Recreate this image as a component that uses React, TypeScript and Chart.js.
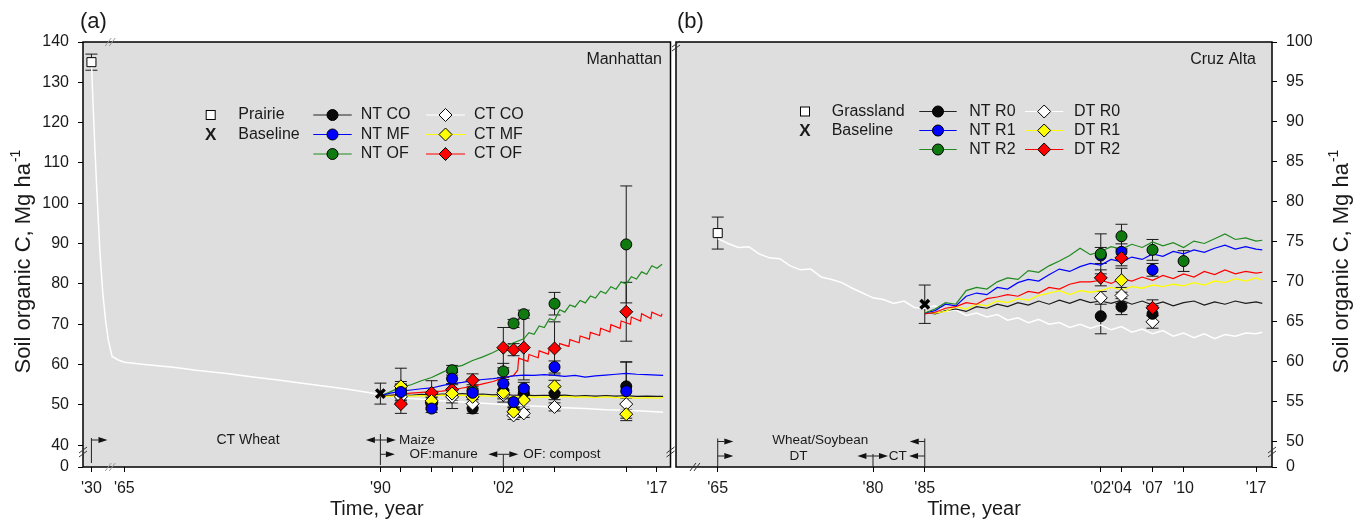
import React, { useEffect, useRef } from 'react';
import { Chart, registerables } from 'chart.js';

Chart.register(...registerables);

const FONT = '"Liberation Sans", Arial, Helvetica, sans-serif';
const TEXT = '#1a1a1a';
const PLOT_BG = '#dedede';

// ================= Panel (a): Manhattan =================
const aXTickYears = [1930, 1965, 1990, 1992, 1995, 1997, 1999, 2002, 2003, 2004, 2007, 2014, 2017];
const aXTickLabels = ["'30", "'65", "'90", '', '', '', '', "'02", '', '', '', '', "'17"];
const aYTickValues = [0, 40, 50, 60, 70, 80, 90, 100, 110, 120, 130, 140];

const aPrairieYear = [1930];
const aPrairieValue = [135];
const aPrairieErr = [2.0];
const aBaselineYear = [1990];
const aBaselineValue = [52.8];
const aBaselineErr = [2.6];

const aObsYears = [1992, 1995, 1997, 1999, 2002, 2003, 2004, 2007, 2014];
const aNtCo = [53.0, 50.3, 52.5, 49.1, 53.5, 48.3, 53.0, 52.8, 54.6];
const aNtCoErr = [2.0, 1.5, 1.5, 1.2, 1.5, 1.0, 1.5, 1.5, 6.0];
const aNtMf = [53.2, 49.1, 56.5, 53.0, 55.3, 50.7, 54.1, 59.4, 53.4];
const aNtMfErr = [2.0, 1.0, 1.5, 1.0, 1.5, 1.0, 1.5, 1.5, 7.3];
const aNtOf = [53.8, 50.8, 58.6, 53.5, 58.3, 70.2, 72.5, 75.1, 89.8];
const aNtOfErr = [2.0, 1.5, 1.2, 1.5, 2.0, 1.0, 1.0, 2.8, 14.5];
const aCtCo = [52.0, 50.5, 52.0, 50.3, 52.5, 47.4, 47.9, 49.5, 50.2];
const aCtCoErr = [1.5, 1.5, 1.5, 1.0, 1.0, 1.0, 1.0, 1.0, 1.5];
const aCtMf = [54.6, 51.0, 52.8, 52.0, 53.0, 48.3, 51.2, 54.6, 47.7];
const aCtMfErr = [4.5, 1.5, 3.7, 1.5, 2.3, 1.0, 1.5, 1.5, 1.0];
const aCtOf = [50.2, 53.0, 53.8, 56.1, 64.2, 63.7, 64.2, 64.0, 73.1];
const aCtOfErr = [2.3, 3.0, 1.5, 1.6, 5.0, 1.5, 8.0, 6.6, 7.3];

const aWhiteYears = [1930, 1932, 1934, 1936, 1939, 1942, 1945, 1948, 1952, 1958, 1965, 1967, 1970, 1972, 1975, 1977, 1980, 1982, 1985, 1987, 1990, 1992, 1994, 1996, 1998, 2000, 2002, 2004, 2006, 2008, 2010, 2012, 2014, 2016, 2017.6];
const aWhiteModel = [135, 123, 112, 102, 88, 78, 71, 66, 62, 61.2, 60.6, 60.0, 59.3, 58.6, 57.8, 57.1, 56.2, 55.5, 54.5, 53.8, 52.6, 51.8, 51.4, 51.0, 50.7, 50.4, 50.1, 49.8, 49.6, 49.3, 49.1, 48.8, 48.7, 48.4, 48.2];

const aModelYears = [1990, 1991, 1992, 1993, 1994, 1995, 1996, 1997, 1998, 1999, 2000, 2001, 2002, 2003, 2004, 2005, 2006, 2007, 2008, 2009, 2010, 2011, 2012, 2013, 2014, 2015, 2016, 2017, 2017.6];
const aNtCoModel = [52.3, 52.4, 52.5, 52.4, 52.6, 52.5, 52.7, 52.6, 52.8, 52.6, 52.7, 52.5, 52.6, 52.4, 52.5, 52.3, 52.4, 52.3, 52.4, 52.2, 52.3, 52.2, 52.3, 52.2, 52.3, 52.1, 52.2, 52.1, 52.1];
const aCtMfModel = [52.2, 52.1, 52.3, 52.2, 52.3, 52.2, 52.4, 52.3, 52.4, 52.2, 52.3, 52.1, 52.2, 52.0, 52.1, 51.9, 52.0, 51.9, 52.1, 51.9, 52.0, 51.8, 52.0, 51.8, 51.9, 51.7, 51.8, 51.7, 51.8];
const aNtMfModel = [52.3, 52.9, 53.4, 53.7, 54.0, 54.2, 54.8, 55.3, 55.6, 56.0, 56.3, 56.5, 56.8, 57.2, 57.4, 57.3, 57.5, 57.3, 57.1, 57.3, 56.9, 57.2, 57.4, 57.6, 57.8, 57.6, 57.5, 57.4, 57.3];

const aNtOfYears = [1990, 1991, 1992, 1993, 1994, 1995, 1996, 1997, 1998, 1999, 2000, 2001, 2002, 2003, 2004, 2004.5, 2005, 2005.5, 2006, 2006.5, 2007, 2007.5, 2008, 2008.5, 2009, 2009.5, 2010, 2010.5, 2011, 2011.5, 2012, 2012.5, 2013, 2013.5, 2014, 2014.5, 2015, 2015.5, 2016, 2016.5, 2017, 2017.5];
const aNtOfModel = [52.2, 53.3, 54.4, 55.0, 56.0, 56.8, 58.0, 59.2, 59.8, 61.0, 61.9, 63.0, 64.3, 65.4, 66.4, 67.9, 67.5, 69.6, 69.2, 71.4, 71.0, 73.6, 73.0, 74.8, 74.3, 75.9, 75.3, 77.0, 76.5, 78.2, 77.6, 79.3, 78.7, 80.5, 80.0, 81.8, 81.2, 83.0, 82.4, 84.5, 83.9, 84.9];

const aCtOfYears = [1990, 1991, 1992, 1993, 1994, 1995, 1996, 1997, 1998, 1999, 2000, 2001, 2002, 2003, 2003.4, 2003.5, 2004.4, 2004.5, 2005.4, 2005.5, 2006.4, 2006.5, 2007.4, 2007.5, 2008.4, 2008.5, 2009.4, 2009.5, 2010.4, 2010.5, 2011.4, 2011.5, 2012.4, 2012.5, 2013.4, 2013.5, 2014.4, 2014.5, 2015.4, 2015.5, 2016.4, 2016.5, 2017.4, 2017.5];
const aCtOfModel = [52.1, 52.3, 52.7, 52.9, 53.1, 53.3, 53.4, 53.7, 54.2, 54.6, 55.2, 55.8, 56.7, 57.3, 58.6, 61.6, 60.8, 62.5, 61.7, 63.4, 62.6, 64.3, 63.6, 65.2, 64.5, 66.2, 65.4, 67.1, 66.3, 68.0, 67.2, 69.0, 68.1, 69.9, 69.0, 70.8, 70.0, 71.8, 70.8, 72.6, 71.4, 73.0, 72.0, 72.6];

const aLegendSym = ['Prairie', 'Baseline'];
const aLegendNT = ['NT CO', 'NT MF', 'NT OF'];
const aLegendCT = ['CT CO', 'CT MF', 'CT OF'];

// ================= Panel (b): Cruz Alta =================
const bXTickYears = [1965, 1980, 1985, 2002, 2004, 2007, 2010, 2017];
const bXTickLabels = ["'65", "'80", "'85", "'02", "'04", "'07", "'10", "'17"];
const bYTickValues = [0, 50, 55, 60, 65, 70, 75, 80, 85, 90, 95, 100];

const bGrassYear = [1965];
const bGrassValue = [76.1];
const bGrassErr = [2.0];
const bBaselineYear = [1985];
const bBaselineValue = [67.2];
const bBaselineErr = [2.4];

const bObsYears = [2002, 2004, 2007, 2010];
const bNtR0 = [65.7, 66.9, 66.0, null];
const bNtR0Err = [2.2, 1.0, 1.0, null];
const bNtR1 = [73.3, 73.75, 71.5, null];
const bNtR1Err = [1.0, 1.0, 0.8, null];
const bNtR2 = [73.5, 75.7, 74.0, 72.6];
const bNtR2Err = [2.5, 1.5, 1.3, 1.3];
const bDtR0 = [68.0, 68.3, 65.0, null];
const bDtR0Err = [0.8, 1.0, 0.8, null];
const bDtR1 = [null, 70.2, null, null];
const bDtR1Err = [null, 1.5, null, null];
const bDtR2 = [70.5, 73.0, 66.75, null];
const bDtR2Err = [1.0, 1.0, 1.0, null];

const bWhiteYears = [1965, 1966, 1967, 1968, 1969, 1970, 1971, 1972, 1973, 1974, 1975, 1976, 1977, 1978, 1979, 1980, 1981, 1982, 1983, 1984, 1985, 1986, 1987, 1988, 1989, 1990, 1991, 1992, 1993, 1994, 1995, 1996, 1997, 1998, 1999, 2000, 2001, 2002, 2003, 2004, 2005, 2006, 2007, 2008, 2009, 2010, 2011, 2012, 2013, 2014, 2015, 2016, 2017, 2017.6];
const bWhiteModel = [75.4, 74.8, 74.3, 74.4, 73.5, 73.0, 72.9, 72.0, 71.5, 71.6, 70.6, 70.3, 69.9, 69.2, 68.6, 68.0, 67.8, 67.3, 67.6, 66.8, 66.7, 67.0, 66.3, 66.5, 65.8, 66.1, 65.6, 65.9, 65.2, 65.5, 64.9, 65.3, 64.7, 64.9, 64.3, 64.7, 64.2, 64.6, 64.0, 64.4, 63.7, 64.1, 63.5, 63.9, 63.2, 63.6, 63.0, 63.5, 62.9, 63.4, 63.2, 63.6, 63.5, 63.7];

const bModelYears = [1985, 1986, 1987, 1988, 1989, 1990, 1991, 1992, 1993, 1994, 1995, 1996, 1997, 1998, 1999, 2000, 2001, 2002, 2003, 2004, 2005, 2006, 2007, 2008, 2009, 2010, 2011, 2012, 2013, 2014, 2015, 2016, 2017, 2017.6];
const bNtR0Model = [66.2, 66.0, 66.4, 66.6, 66.3, 66.9, 66.7, 67.2, 66.9, 67.4, 67.1, 67.6, 67.2, 67.7, 67.3, 67.8, 67.4, 67.6, 67.3, 67.7, 67.2, 67.6, 67.1, 67.5, 67.0, 67.4, 67.6, 67.1, 67.5, 67.2, 67.6, 67.3, 67.5, 67.3];
const bDtR1Model = [66.2, 66.1, 66.3, 66.9, 66.6, 67.2, 67.0, 67.6, 67.4, 67.9, 67.7, 68.3, 68.6, 68.9, 68.4, 68.9, 68.7, 68.9, 69.3, 69.0, 69.4, 69.2, 69.6, 69.4, 69.7, 69.5, 69.9, 69.6, 70.1, 69.9, 70.4, 70.1, 70.5, 70.2];
const bDtR2Model = [66.0, 66.2, 66.7, 66.9, 67.4, 67.2, 67.9, 68.1, 68.4, 68.2, 68.8, 68.6, 69.3, 69.1, 69.7, 70.0, 70.0, 70.2, 69.8, 70.4, 70.1, 70.6, 70.2, 70.8, 70.4, 71.0, 70.6, 71.3, 70.9, 71.5, 71.0, 71.3, 71.1, 71.2];
const bNtR1Model = [66.1, 66.4, 67.2, 67.0, 68.2, 68.6, 68.4, 69.3, 69.1, 69.9, 70.3, 70.1, 70.9, 71.6, 71.3, 71.9, 72.3, 72.1, 72.8, 72.5, 73.1, 72.8, 73.5, 73.2, 73.8, 73.5, 74.0, 73.7, 74.2, 74.6, 74.1, 74.4, 74.1, 74.0];
const bNtR2Model = [66.1, 66.6, 67.4, 67.2, 68.9, 69.3, 69.1, 70.0, 70.5, 70.3, 71.4, 71.2, 72.0, 72.6, 73.3, 74.2, 73.4, 73.8, 74.4, 74.1, 74.7, 74.3, 75.0, 74.5, 74.9, 74.3, 75.1, 74.8, 75.4, 76.0, 75.3, 75.5, 75.1, 75.2];

const bLegendSym = ['Grassland', 'Baseline'];
const bLegendNT = ['NT R0', 'NT R1', 'NT R2'];
const bLegendDT = ['DT R0', 'DT R1', 'DT R2'];

// ================= colours =================
const C_BLACK = '#0a0a0a';
const C_BLUE = '#0000ff';
const C_GREEN_M = '#0f7a0f';
const C_GREEN_L = '#1f8a1f';
const C_RED = '#ff0000';
const C_YELLOW = '#ffff00';
const C_WHITE = '#ffffff';
const NT_COLORS = [{ line: '#222222', fill: C_BLACK }, { line: C_BLUE, fill: C_BLUE }, { line: C_GREEN_L, fill: C_GREEN_M }];
const CT_COLORS = [{ line: C_WHITE, fill: C_WHITE }, { line: C_YELLOW, fill: C_YELLOW }, { line: C_RED, fill: C_RED }];

// ================= scale geometry =================
const A_X_MIN = 1960.967;
const A_X_MAX = 2018.32;
const A_BREAK = 0.0917; // compression of years before 1965
const A_Y_MIN = 34.6;
const B_X_MIN = 1960.97;
const B_X_MAX = 2018.54;
const B_Y_MIN = 46.84;
const B_LEFT = 600;

const tA = (yr: number) => (yr >= 1965 ? yr : 1965 - (1965 - yr) * A_BREAK);
const tAy = (v: number) => (v >= 40 ? v : A_Y_MIN);
const tBy = (v: number) => (v >= 50 ? v : B_Y_MIN);

const pts = (xs: number[], ys: (number | null)[], tx: (n: number) => number = (n) => n) =>
  xs.map((x, i) => ({ x: tx(x), y: ys[i] }));

// ================= datasets =================
function markerDs(xs: number[], ys: (number | null)[], errs: (number | null)[], style: string, fill: string, r: number, tx?: (n: number) => number): any {
  return {
    data: pts(xs, ys, tx),
    errs,
    showLine: false,
    pointStyle: style,
    pointRadius: r,
    pointHoverRadius: r,
    pointBackgroundColor: fill,
    pointBorderColor: '#000',
    pointBorderWidth: 1,
    borderColor: '#000',
    backgroundColor: fill,
  };
}
function lineDs(xs: number[], ys: number[], color: string, w: number, tx?: (n: number) => number): any {
  return {
    data: pts(xs, ys, tx),
    showLine: true,
    borderColor: color,
    borderWidth: w,
    pointRadius: 0,
    pointHoverRadius: 0,
    pointHitRadius: 0,
    tension: 0,
    fill: false,
  };
}
function crossDs(xs: number[], ys: number[], errs: number[]): any {
  return {
    data: pts(xs, ys),
    errs,
    showLine: false,
    pointStyle: 'crossRot',
    pointRadius: 6,
    pointBorderColor: '#000',
    pointBorderWidth: 3.5,
    borderColor: '#000',
  };
}

// ================= drawing helpers =================
function txt(ctx: CanvasRenderingContext2D, s: string, x: number, y: number, size: number, align: CanvasTextAlign = 'left', weight = 'normal') {
  ctx.font = `${weight} ${size}px ${FONT}`;
  ctx.textAlign = align;
  ctx.textBaseline = 'middle';
  ctx.fillStyle = TEXT;
  ctx.fillText(s, x, y);
}
function vline(ctx: CanvasRenderingContext2D, x: number, y0: number, y1: number) {
  ctx.beginPath();
  ctx.moveTo(x, y0);
  ctx.lineTo(x, y1);
  ctx.stroke();
}
function arrow(ctx: CanvasRenderingContext2D, xFrom: number, xTip: number, y: number) {
  const dir = Math.sign(xTip - xFrom);
  const head = 9;
  const hw = 3;
  ctx.beginPath();
  ctx.moveTo(xFrom, y);
  ctx.lineTo(xTip - dir * head, y);
  ctx.stroke();
  ctx.beginPath();
  ctx.moveTo(xTip, y);
  ctx.lineTo(xTip - dir * head, y - hw);
  ctx.lineTo(xTip - dir * head, y + hw);
  ctx.closePath();
  ctx.fill();
}
function breakMark(ctx: CanvasRenderingContext2D, x: number, y: number, axis: 'v' | 'h', color: string) {
  ctx.save();
  ctx.strokeStyle = color;
  ctx.lineWidth = 1;
  for (const d of [-2, 2]) {
    ctx.beginPath();
    if (axis === 'v') {
      ctx.moveTo(x - 4, y + d + 3);
      ctx.lineTo(x + 4, y + d - 3);
    } else {
      ctx.moveTo(x + d - 3, y + 4);
      ctx.lineTo(x + d + 3, y - 4);
    }
    ctx.stroke();
  }
  ctx.restore();
}
function yTitle(ctx: CanvasRenderingContext2D, cx: number, cy: number) {
  ctx.save();
  ctx.translate(cx, cy);
  ctx.rotate(-Math.PI / 2);
  const main = 'Soil organic C, Mg ha';
  const sup = '-1';
  ctx.font = `22px ${FONT}`;
  const w1 = ctx.measureText(main).width;
  ctx.font = `14px ${FONT}`;
  const w2 = ctx.measureText(sup).width;
  const x0 = -(w1 + w2) / 2;
  ctx.fillStyle = TEXT;
  ctx.textBaseline = 'middle';
  ctx.textAlign = 'left';
  ctx.font = `22px ${FONT}`;
  ctx.fillText(main, x0, 0);
  ctx.font = `14px ${FONT}`;
  ctx.fillText(sup, x0 + w1 + 1, -8);
  ctx.restore();
}
function legCircle(ctx: CanvasRenderingContext2D, x: number, y: number, fill: string) {
  ctx.beginPath();
  ctx.arc(x, y, 5.5, 0, Math.PI * 2);
  ctx.fillStyle = fill;
  ctx.fill();
  ctx.strokeStyle = '#000';
  ctx.lineWidth = 1;
  ctx.stroke();
}
function legDiamond(ctx: CanvasRenderingContext2D, x: number, y: number, fill: string) {
  const r = 6.5;
  ctx.beginPath();
  ctx.moveTo(x - r, y);
  ctx.lineTo(x, y - r);
  ctx.lineTo(x + r, y);
  ctx.lineTo(x, y + r);
  ctx.closePath();
  ctx.fillStyle = fill;
  ctx.fill();
  ctx.strokeStyle = '#000';
  ctx.lineWidth = 1;
  ctx.stroke();
}
function legLine(ctx: CanvasRenderingContext2D, x0: number, x1: number, y: number, color: string) {
  ctx.strokeStyle = color;
  ctx.lineWidth = 1.2;
  ctx.beginPath();
  ctx.moveTo(x0, y);
  ctx.lineTo(x1, y);
  ctx.stroke();
}
function drawLegend(ctx: CanvasRenderingContext2D, L: any) {
  ctx.save();
  ctx.fillStyle = '#fff';
  ctx.strokeStyle = '#000';
  ctx.lineWidth = 1;
  ctx.fillRect(L.symX - 4.5, L.rows[0] - 4.5, 9, 9);
  ctx.strokeRect(L.symX - 4.5, L.rows[0] - 4.5, 9, 9);
  txt(ctx, 'X', L.symX, L.rows[1] + 1, 17, 'center', 'bold');
  txt(ctx, L.sym[0], L.symLabelX, L.rows[0], 16);
  txt(ctx, L.sym[1], L.symLabelX, L.rows[1], 16);
  for (let i = 0; i < 3; i++) {
    const y = L.rows[i];
    legLine(ctx, L.c1[0], L.c1[1], y, NT_COLORS[i].line);
    legCircle(ctx, (L.c1[0] + L.c1[1]) / 2, y, NT_COLORS[i].fill);
    txt(ctx, L.nt[i], L.c1[2], y, 16);
    legLine(ctx, L.c2[0], L.c2[1], y, CT_COLORS[i].line);
    legDiamond(ctx, (L.c2[0] + L.c2[1]) / 2, y, CT_COLORS[i].fill);
    txt(ctx, L.ct[i], L.c2[2], y, 16);
  }
  ctx.restore();
}

// ================= plugins =================
const errorBarPlugin = {
  id: 'errbars',
  beforeDatasetsDraw(chart: any) {
    const ctx = chart.ctx;
    const ys = chart.scales.y;
    ctx.save();
    ctx.strokeStyle = '#1a1a1a';
    ctx.lineWidth = 1;
    chart.data.datasets.forEach((ds: any, i: number) => {
      if (!ds.errs) return;
      const meta = chart.getDatasetMeta(i);
      meta.data.forEach((el: any, j: number) => {
        const d = ds.data[j];
        const e = ds.errs[j];
        if (!d || d.y == null || !e || !isFinite(el.x)) return;
        const top = ys.getPixelForValue(d.y + e);
        const bot = ys.getPixelForValue(d.y - e);
        ctx.beginPath();
        ctx.moveTo(el.x, top);
        ctx.lineTo(el.x, bot);
        ctx.moveTo(el.x - 6, top);
        ctx.lineTo(el.x + 6, top);
        ctx.moveTo(el.x - 6, bot);
        ctx.lineTo(el.x + 6, bot);
        ctx.stroke();
      });
    });
    ctx.restore();
  },
};

function bgPlugin(id: string) {
  return {
    id,
    beforeDraw(chart: any) {
      const { ctx, chartArea: c } = chart;
      ctx.save();
      ctx.fillStyle = PLOT_BG;
      ctx.fillRect(c.left, c.top, c.right - c.left, c.bottom - c.top);
      ctx.restore();
    },
  };
}

const decorA = {
  id: 'decorA',
  afterDraw(chart: any) {
    const ctx: CanvasRenderingContext2D = chart.ctx;
    const c = chart.chartArea;
    const xs = chart.scales.x;
    const sx = (yr: number) => xs.getPixelForValue(tA(yr));
    ctx.save();
    ctx.strokeStyle = '#000';
    ctx.lineWidth = 1.5;
    ctx.strokeRect(c.left, c.top, c.right - c.left, c.bottom - c.top);
    breakMark(ctx, c.left, 452, 'v', '#333');
    breakMark(ctx, c.right, 452, 'v', '#333');
    breakMark(ctx, sx(1950), c.top, 'h', '#999');
    breakMark(ctx, sx(1950), c.bottom, 'h', '#999');

    const row1 = c.bottom - 27;
    const row2 = c.bottom - 12.7;
    ctx.strokeStyle = '#222';
    ctx.fillStyle = '#111';
    ctx.lineWidth = 1;
    const x30 = sx(1930);
    vline(ctx, x30, row1 - 2, c.bottom - 4);
    arrow(ctx, x30, x30 + 16, row1);
    txt(ctx, 'CT Wheat', sx(1974), row1, 14);
    ctx.strokeStyle = '#222';
    ctx.fillStyle = '#111';
    const x90 = sx(1990);
    vline(ctx, x90, row1 - 6, c.bottom - 2);
    arrow(ctx, x90, x90 - 14.5, row1);
    arrow(ctx, x90, x90 + 15.5, row1);
    arrow(ctx, x90, x90 + 14.5, row2);
    txt(ctx, 'Maize', x90 + 18.5, row1, 13.5);
    txt(ctx, 'OF:manure', x90 + 29, row2, 13.5);
    ctx.strokeStyle = '#222';
    ctx.fillStyle = '#111';
    const x02 = sx(2002);
    vline(ctx, x02, row2, c.bottom);
    arrow(ctx, x02, x02 - 15, row2);
    arrow(ctx, x02, x02 + 15, row2);
    txt(ctx, 'OF: compost', x02 + 20, row2, 13.5);

    drawLegend(ctx, {
      symX: 210.7, symLabelX: 238.3, rows: [115, 134.5, 154],
      sym: aLegendSym, nt: aLegendNT, ct: aLegendCT,
      c1: [313.3, 351.7, 360.7], c2: [426, 465, 474],
    });

    txt(ctx, '(a)', 80, 22, 22);
    txt(ctx, 'Manhattan', 662, 60, 16, 'right');
    txt(ctx, 'Time, year', (c.left + c.right) / 2, 509, 20, 'center');
    yTitle(ctx, 24, 262);
    ctx.restore();
  },
};

const decorB = {
  id: 'decorB',
  afterDraw(chart: any) {
    const ctx: CanvasRenderingContext2D = chart.ctx;
    const c0 = chart.chartArea;
    const xs = chart.scales.x;
    const sx = (yr: number) => xs.getPixelForValue(yr) + B_LEFT;
    const c = { left: c0.left + B_LEFT, right: c0.right + B_LEFT, top: c0.top, bottom: c0.bottom };
    ctx.save();
    ctx.translate(-B_LEFT, 0);
    ctx.strokeStyle = '#000';
    ctx.lineWidth = 1.5;
    ctx.strokeRect(c.left, c.top, c.right - c.left, c.bottom - c.top);
    breakMark(ctx, c.left, c.top + 4, 'v', '#333');
    breakMark(ctx, c.right, 452, 'v', '#333');
    breakMark(ctx, sx(1962.8), c.bottom, 'h', '#333');

    const row1 = c.bottom - 25.5;
    const row2 = c.bottom - 11;
    ctx.strokeStyle = '#222';
    ctx.fillStyle = '#111';
    ctx.lineWidth = 1;
    const x65 = sx(1965);
    vline(ctx, x65, row1 - 3, c.bottom);
    arrow(ctx, x65, x65 + 15.6, row1);
    arrow(ctx, x65, x65 + 15.6, row2);
    txt(ctx, 'Wheat/Soybean', sx(1974.9), row1 - 1, 13.5, 'center');
    txt(ctx, 'DT', sx(1972.8), row2, 13.5, 'center');
    ctx.strokeStyle = '#222';
    ctx.fillStyle = '#111';
    const x80 = sx(1980);
    vline(ctx, x80, row2 - 2, c.bottom);
    arrow(ctx, x80, x80 - 15.6, row2);
    arrow(ctx, x80, x80 + 15, row2);
    txt(ctx, 'CT', sx(1982.4), row2, 13.5, 'center');
    ctx.strokeStyle = '#222';
    ctx.fillStyle = '#111';
    const x85 = sx(1985);
    vline(ctx, x85, row1 - 3, c.bottom);
    arrow(ctx, x85, x85 - 15, row1);
    arrow(ctx, x85, x85 - 15.7, row2);

    drawLegend(ctx, {
      symX: 805, symLabelX: 831.7, rows: [111.5, 130.5, 149.5],
      sym: bLegendSym, nt: bLegendNT, ct: bLegendDT,
      c1: [919.3, 956.7, 969.3], c2: [1025, 1063.3, 1074],
    });

    txt(ctx, '(b)', 677, 22, 22);
    txt(ctx, 'Cruz Alta', 1256, 60, 16, 'right');
    txt(ctx, 'Time, year', (c.left + c.right) / 2, 509, 20, 'center');
    yTitle(ctx, 1342, 262);
    ctx.restore();
  },
};

const tickFont = { family: FONT, size: 16 };
const gridCfg = { drawOnChartArea: false, drawTicks: true, tickLength: 5, color: '#000', lineWidth: 1 };

function configA(): any {
  const datasets = [
    markerDs(aObsYears, aNtMf, aNtMfErr, 'circle', C_BLUE, 5.5),
    markerDs(aObsYears, aCtMf, aCtMfErr, 'rectRot', C_YELLOW, 6.5),
    markerDs(aObsYears, aCtOf, aCtOfErr, 'rectRot', C_RED, 6.5),
    markerDs(aObsYears, aNtOf, aNtOfErr, 'circle', C_GREEN_M, 5.5),
    markerDs(aObsYears, aCtCo, aCtCoErr, 'rectRot', C_WHITE, 6.5),
    markerDs(aObsYears, aNtCo, aNtCoErr, 'circle', C_BLACK, 5.5),
    markerDs(aPrairieYear, aPrairieValue, aPrairieErr, 'rect', C_WHITE, 6.4, tA),
    crossDs(aBaselineYear, aBaselineValue, aBaselineErr),
    lineDs(aModelYears, aCtMfModel, C_YELLOW, 1.3),
    lineDs(aModelYears, aNtCoModel, '#1a1a1a', 1.2),
    lineDs(aModelYears, aNtMfModel, C_BLUE, 1.2),
    lineDs(aCtOfYears, aCtOfModel, C_RED, 1.2),
    lineDs(aNtOfYears, aNtOfModel, C_GREEN_L, 1.2),
    lineDs(aWhiteYears, aWhiteModel, C_WHITE, 1.5, tA),
  ];
  return {
    type: 'scatter',
    data: { datasets },
    options: {
      animation: false,
      responsive: false,
      devicePixelRatio: 1,
      events: [],
      layout: { padding: { top: 42, left: 0, right: 4, bottom: 0 } },
      plugins: { legend: { display: false }, tooltip: { enabled: false } },
      scales: {
        x: {
          type: 'linear',
          min: A_X_MIN,
          max: A_X_MAX,
          afterBuildTicks: (s: any) => {
            s.ticks = aXTickYears.map((y) => ({ value: tA(y) }));
          },
          afterFit: (s: any) => {
            s.height = 59;
          },
          ticks: { autoSkip: false, maxRotation: 0, font: tickFont, color: TEXT, padding: 7, callback: (_v: any, i: number) => aXTickLabels[i] },
          grid: gridCfg,
          border: { display: false },
        },
        y: {
          type: 'linear',
          min: A_Y_MIN,
          max: 140,
          afterBuildTicks: (s: any) => {
            s.ticks = aYTickValues.map((v) => ({ value: tAy(v) }));
          },
          afterFit: (s: any) => {
            s.width = 83;
          },
          ticks: { autoSkip: false, font: tickFont, color: TEXT, padding: 9, callback: (_v: any, i: number) => String(aYTickValues[i]) },
          grid: gridCfg,
          border: { display: false },
        },
      },
    },
    plugins: [bgPlugin('bgA'), errorBarPlugin, decorA],
  };
}

function configB(): any {
  const datasets = [
    markerDs(bObsYears, bDtR2, bDtR2Err, 'rectRot', C_RED, 6.5),
    markerDs(bObsYears, bDtR1, bDtR1Err, 'rectRot', C_YELLOW, 6.5),
    markerDs(bObsYears, bNtR2, bNtR2Err, 'circle', C_GREEN_M, 5.5),
    markerDs(bObsYears, bNtR1, bNtR1Err, 'circle', C_BLUE, 5.5),
    markerDs(bObsYears, bNtR0, bNtR0Err, 'circle', C_BLACK, 5.5),
    markerDs(bObsYears, bDtR0, bDtR0Err, 'rectRot', C_WHITE, 6.5),
    markerDs(bGrassYear, bGrassValue, bGrassErr, 'rect', C_WHITE, 6.4),
    crossDs(bBaselineYear, bBaselineValue, bBaselineErr),
    lineDs(bModelYears, bNtR2Model, C_GREEN_L, 1.2),
    lineDs(bModelYears, bNtR1Model, C_BLUE, 1.2),
    lineDs(bModelYears, bDtR2Model, C_RED, 1.2),
    lineDs(bModelYears, bDtR1Model, C_YELLOW, 1.3),
    lineDs(bModelYears, bNtR0Model, '#1a1a1a', 1.2),
    lineDs(bWhiteYears, bWhiteModel, C_WHITE, 1.5),
  ];
  return {
    type: 'scatter',
    data: { datasets },
    options: {
      animation: false,
      responsive: false,
      devicePixelRatio: 1,
      events: [],
      layout: { padding: { top: 42, left: 76, right: 0, bottom: 0 } },
      plugins: { legend: { display: false }, tooltip: { enabled: false } },
      scales: {
        x: {
          type: 'linear',
          min: B_X_MIN,
          max: B_X_MAX,
          afterBuildTicks: (s: any) => {
            s.ticks = bXTickYears.map((y) => ({ value: y }));
          },
          afterFit: (s: any) => {
            s.height = 59;
          },
          ticks: { autoSkip: false, maxRotation: 0, font: tickFont, color: TEXT, padding: 7, callback: (_v: any, i: number) => bXTickLabels[i] },
          grid: gridCfg,
          border: { display: false },
        },
        y: {
          type: 'linear',
          position: 'right',
          min: B_Y_MIN,
          max: 100,
          afterBuildTicks: (s: any) => {
            s.ticks = bYTickValues.map((v) => ({ value: tBy(v) }));
          },
          afterFit: (s: any) => {
            s.width = 93;
          },
          ticks: { autoSkip: false, font: tickFont, color: TEXT, padding: 9, callback: (_v: any, i: number) => String(bYTickValues[i]) },
          grid: gridCfg,
          border: { display: false },
        },
      },
    },
    plugins: [bgPlugin('bgB'), errorBarPlugin, decorB],
  };
}

export default function App() {
  const refA = useRef<HTMLCanvasElement | null>(null);
  const refB = useRef<HTMLCanvasElement | null>(null);
  useEffect(() => {
    const a = new Chart(refA.current as HTMLCanvasElement, configA());
    const b = new Chart(refB.current as HTMLCanvasElement, configB());
    return () => {
      a.destroy();
      b.destroy();
    };
  }, []);
  return (
    <div style={{ position: 'fixed', left: 0, top: 0, width: 1365, height: 526, background: '#fff', overflow: 'hidden' }}>
      <canvas ref={refA} width={680} height={526} style={{ position: 'absolute', left: 0, top: 0, width: 680, height: 526 }} />
      <canvas ref={refB} width={765} height={526} style={{ position: 'absolute', left: B_LEFT, top: 0, width: 765, height: 526 }} />
    </div>
  );
}
